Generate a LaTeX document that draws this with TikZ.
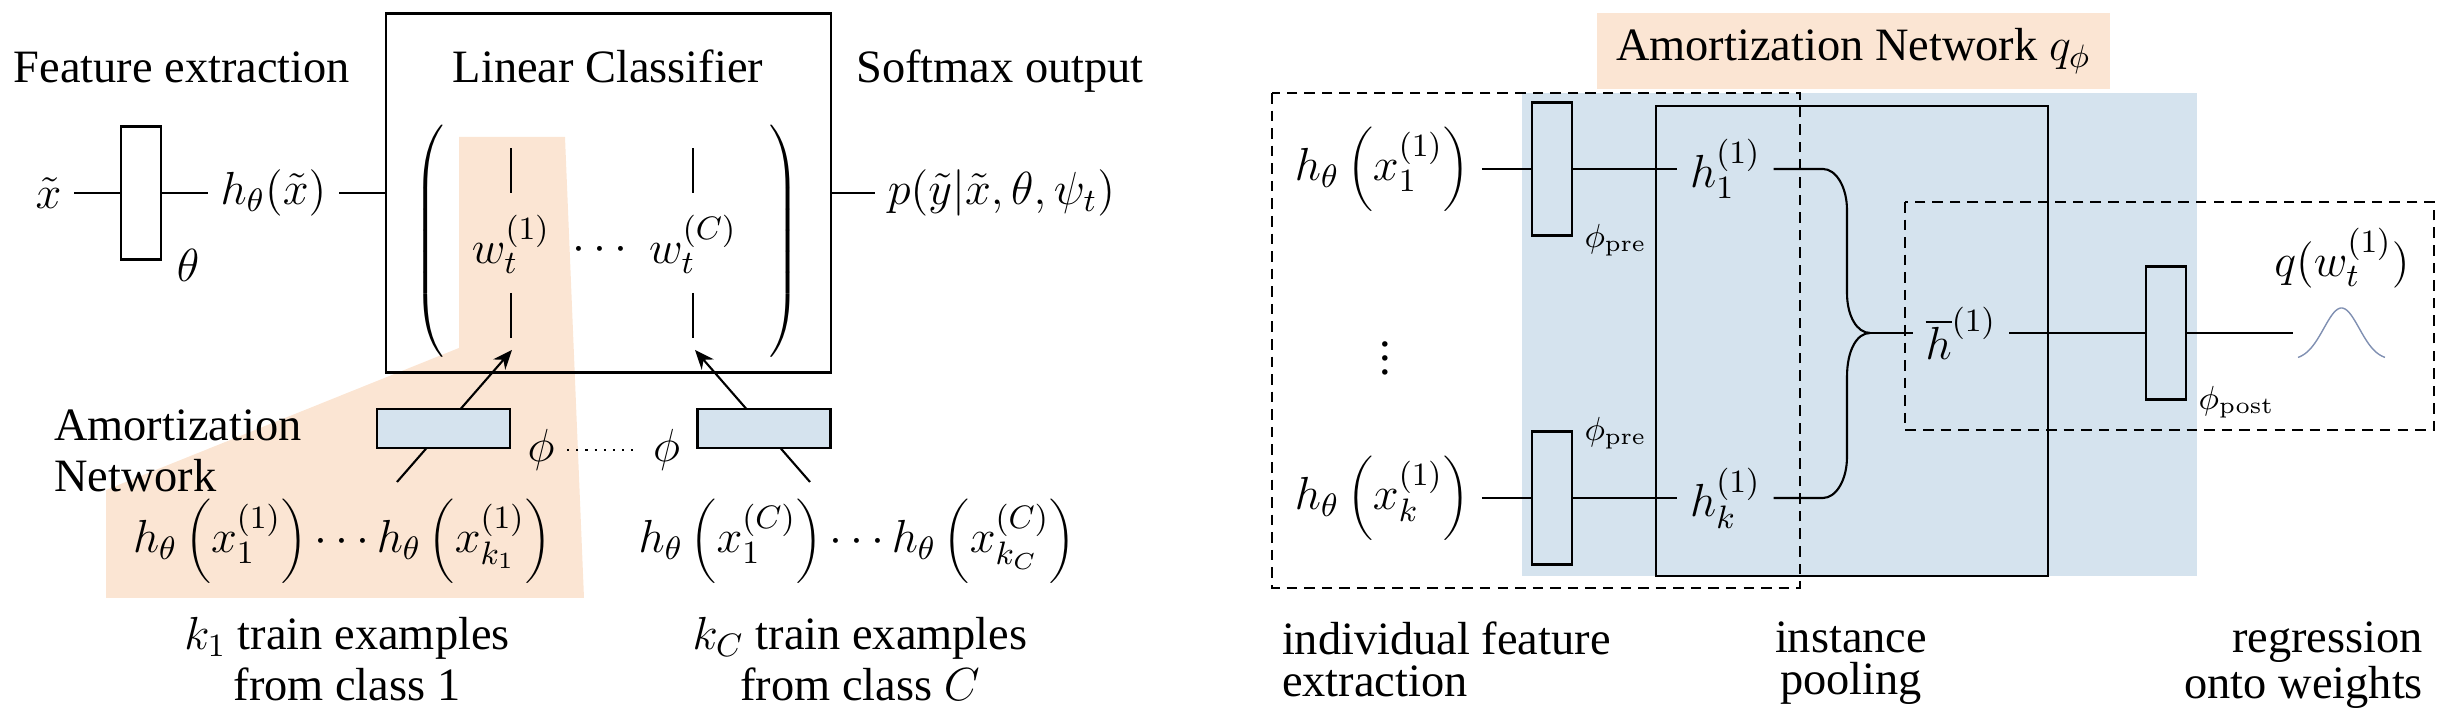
\RequirePackage{fix-cm}
\documentclass[tikz,border=0pt]{standalone}
\usepackage[no-math]{fontspec}
\setmainfont{Liberation Serif}
\usetikzlibrary{
    arrows.meta,
    positioning,
    calc
}
\definecolor{amortorange}{RGB}{251,229,211}
\definecolor{amortblue}{RGB}{213,227,238}
\definecolor{gaussblue}{RGB}{128,144,178}
\tikzset{
    % Colors
    orange area/.style={fill=amortorange},
    blue area/.style={fill=amortblue},
    gauss/.style={gaussblue,thin},
    %
    % Boxes
    layer/.style={draw,minimum width=0.40cm,minimum height=1.33cm,inner sep=0pt},
    amort layer/.style={draw,fill=amortblue,minimum width=1.33cm,minimum height=0.39cm,inner sep=0pt},
    region/.style={dash pattern=on 3pt off 2pt},
    %
    % Labels
    caption/.style={inner sep=0pt,align=center},
    tight caption/.style={caption,font=\fontsize{13.2}{12}\selectfont},
    small label/.style={inner sep=0pt,font=\fontsize{9.5}{11}\selectfont},
    %
    % Arrows
    arrow tip/.tip={Stealth[length=5.5pt,width=4.5pt]},
    arr/.style={->,>={arrow tip}}
}
\tikzstyle{every node}=[font=\fontsize{13.2}{14.5}\selectfont]

\begin{document}
\begin{tikzpicture}[semithick]
    \useasboundingbox (0,0) rectangle (24.44,7.14);

    % ---- left: linear classifier ----
    \fill[orange area] (4.59,5.77) -- (5.65,5.77) -- (5.84,1.16) -- (1.06,1.16) -- (1.06,2.24) -- (4.59,3.66) -- cycle;

    \node[anchor=base] (fetitle) at (1.82,6.31) {Feature extraction};
    \node[anchor=base] (lctitle) at (6.08,6.31) {Linear Classifier};
    \node[anchor=base] (smtitle) at (10.0,6.31) {Softmax output};

    \node (xt) at (0.485,5.21) {$\tilde{x}$};
    \node[layer] (fe) at (1.41,5.21) {};
    \node (thetalbl) at (1.88,4.49) {$\theta$};
    \node (hx) at (2.735,5.21) {$h_\theta(\tilde{x})$};
    \node[draw,minimum width=4.45cm,minimum height=3.59cm] (lc) at (6.085,5.21) {};
    \node (out) at (10.015,5.21) {$p(\tilde{y}|\tilde{x},\theta,\psi_t)$};
    \draw (xt) -- (fe);
    \draw (fe) -- (hx);
    \draw (hx) -- (lc);
    \draw (lc) -- (out);

    % weight matrix
    \node (lpar) at (4.31,4.70) {$\left(\vrule height 1.1cm depth 1.1cm width 0pt\right.$};
    \node (rpar) at (7.83,4.70) {$\left.\vrule height 1.1cm depth 1.1cm width 0pt\right)$};
    \node (w1) at (5.11,4.70) {$w_t^{(1)}$};
    \node (wdots) at (6.00,4.64) {$\cdots$};
    \node (wC) at (6.93,4.70) {$w_t^{(C)}$};
    \foreach \w in {w1,wC}{
        \draw (\w.center) ++(0,0.51) -- ++(0,0.45);
        \draw (\w.center) ++(0,-0.49) -- ++(0,-0.45);
    }

    % amortization network per class
    \coordinate (w1in) at (5.12,3.64);
    \coordinate (wCin) at (6.95,3.64);
    \coordinate (row1top) at (3.97,2.32);
    \coordinate (rowCtop) at (8.10,2.32);
    \draw[arr] (row1top) -- (w1in);
    \draw[arr] (rowCtop) -- (wCin);
    \node[amort layer] (am1) at (4.435,2.855) {};
    \node[amort layer] (amC) at (7.64,2.855) {};
    \node (phi1) at (5.41,2.64) {$\phi$};
    \node (phiC) at (6.665,2.64) {$\phi$};
    \draw[dotted] (phi1) -- (phiC);
    \node[caption,align=left,anchor=west] (amlbl) at (0.53,2.63) {Amortization\\Network};

    \node (row1) at (3.42,1.73) {$h_\theta\left(x_1^{(1)}\right)\cdots h_\theta\left(x_{k_1}^{(1)}\right)$};
    \node (rowC) at (8.57,1.73) {$h_\theta\left(x_1^{(C)}\right)\cdots h_\theta\left(x_{k_C}^{(C)}\right)$};
    \node[caption,anchor=north] (cap1) at (3.47,0.98) {$k_1$ train examples\\from class 1};
    \node[caption,anchor=north] (capC) at (8.60,0.98) {$k_C$ train examples\\from class $C$};

    % ---- right: amortization network ----
    \fill[blue area] (15.22,6.21) rectangle (21.97,1.38);
    \node[orange area,minimum width=5.13cm,minimum height=0.76cm] (antitle) at (18.535,6.63) {Amortization Network $q_\phi$};
    \draw (16.56,6.08) rectangle (20.48,1.38);
    \draw[region] (12.72,6.21) rectangle (18.00,1.26);
    \draw[region] (19.05,5.12) rectangle (24.34,2.84);

    \node (hx1) at (13.82,5.45) {$h_\theta\left(x_1^{(1)}\right)$};
    \node (vd) at (13.85,3.66) {$\vdots$};
    \node (hxk) at (13.82,2.16) {$h_\theta\left(x_k^{(1)}\right)$};
    \node[layer] (pre1) at (15.52,5.45) {};
    \node[layer] (prek) at (15.52,2.16) {};
    \node[small label] (pre1lbl) at (16.155,4.74) {$\phi_{\mathrm{pre}}$};
    \node[small label] (preklbl) at (16.155,2.81) {$\phi_{\mathrm{pre}}$};
    \node (h1) at (17.255,5.45) {$h_1^{(1)}$};
    \node (hk) at (17.255,2.16) {$h_k^{(1)}$};
    \draw (hx1) -- (pre1);
    \draw (pre1) -- (h1);
    \draw (hxk) -- (prek);
    \draw (prek) -- (hk);

    % pooling
    \coordinate (pool) at (18.70,3.81);
    \draw (h1) -- (18.23,5.45) .. controls (18.36,5.45) and (18.47,5.27) .. (18.47,5.04)
        -- (18.47,4.21) .. controls (18.47,3.98) and (18.57,3.81) .. (pool);
    \draw (hk) -- (18.23,2.16) .. controls (18.36,2.16) and (18.47,2.34) .. (18.47,2.57)
        -- (18.47,3.37) .. controls (18.47,3.64) and (18.57,3.81) .. (pool);
    \node (hbar) at (19.61,3.81) {$\overline{h}^{(1)}$};
    \draw (pool) -- (hbar);

    % regression onto weights
    \node[layer] (post) at (21.66,3.81) {};
    \node[small label] (postlbl) at (22.365,3.12) {$\phi_{\mathrm{post}}$};
    \draw (hbar) -- (post);
    \coordinate (gs) at (22.93,3.81);
    \draw (post) -- (gs);
    \draw[gauss] plot[domain=-1:1,samples=50] ({23.415+0.435*\x},{3.54+0.52*exp(-3*(\x)*(\x))});
    \node (qw) at (23.42,4.56) {$q(w_t^{(1)})$};

    \node[tight caption,align=left,anchor=north west] (capfe) at (12.81,0.93) {individual feature\\extraction};
    \node[tight caption,anchor=north] (cappool) at (18.51,0.93) {instance\\pooling};
    \node[tight caption,align=right,anchor=north east] (capreg) at (24.24,0.93) {regression\\onto weights};
\end{tikzpicture}
\end{document}
